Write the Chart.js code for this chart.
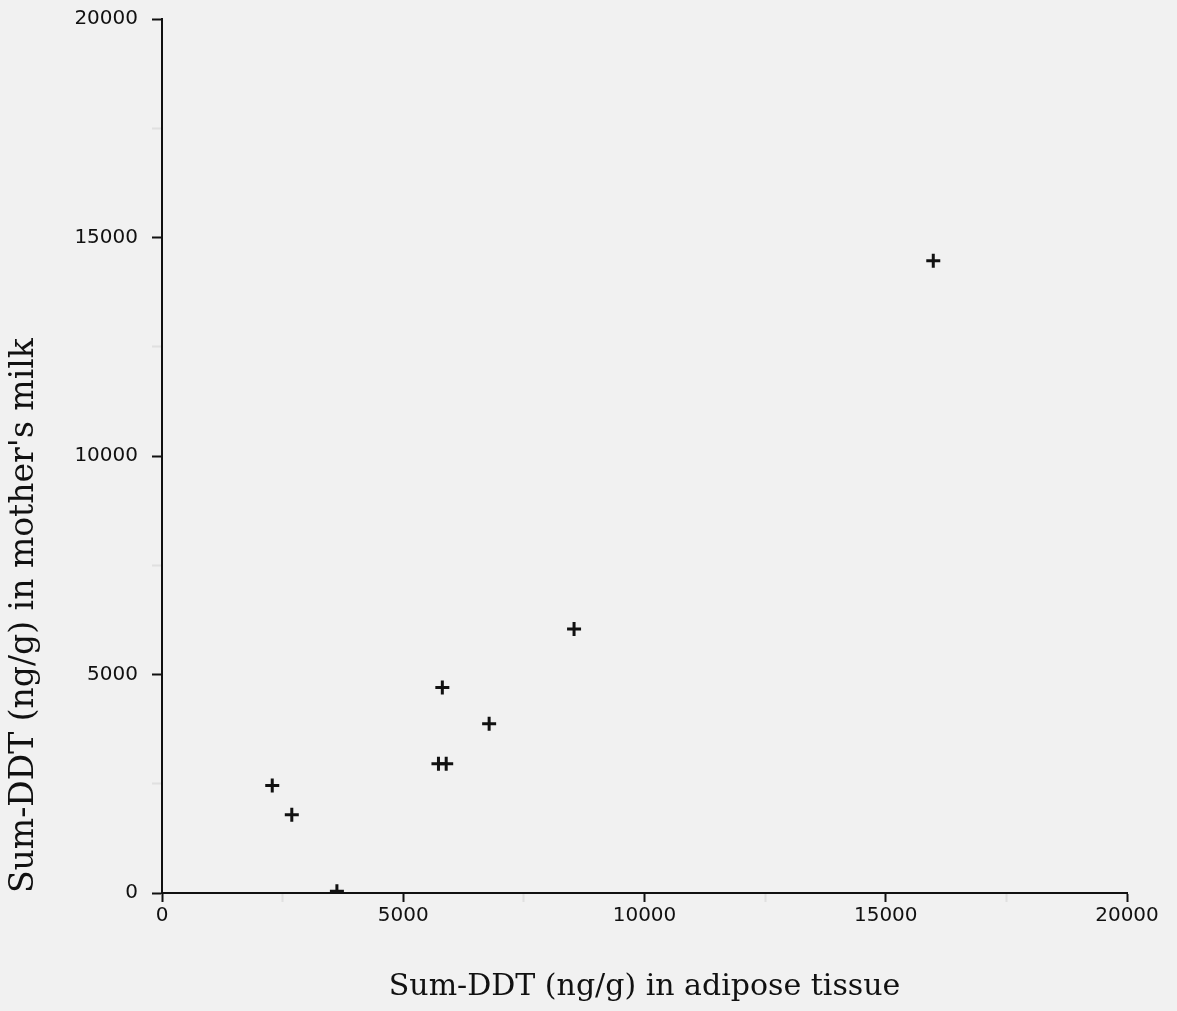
<!DOCTYPE html>
<html>
<head>
<meta charset="utf-8">
<script src="https://cdn.jsdelivr.net/npm/chart.js@4/dist/chart.umd.min.js"></script>
<style>
  html, body { margin: 0; padding: 0; background: #f1f1f1; }
  #wrap { width: 1177px; height: 1011px; }
</style>
</head>
<body>
<div id="wrap"><canvas id="c"></canvas></div>
<script>
// Sum-DDT (ng/g): adipose tissue vs mother's milk
const adipose = [2285, 2690, 3625, 5810, 5730, 5890, 6780, 8540, 15985];
const milk    = [2460, 1790,   40, 4705, 2960, 2960, 3875, 6040, 14470];

const axisMin = 0;
const axisMax = 20000;
const minorStep = 2500;

const xTitle = "Sum-DDT (ng/g) in adipose tissue";
const yTitle = "Sum-DDT (ng/g) in mother's milk";

const points = adipose.map((x, i) => ({ x: x, y: milk[i] }));

// major ticks dark, the 2500 in-between ones faint and unlabeled
const tickColor = (ctx) => (ctx.tick && ctx.tick.value % 5000 === 0) ? "#111" : "rgba(0,0,0,0.07)";
const tickLabel = (v) => (v % 5000 === 0 ? v : "");

new Chart(document.getElementById("c"), {
    type: "scatter",
    data: {
        datasets: [{
            data: points,
            pointStyle: "cross",
            pointRadius: 7,
            pointBorderWidth: 3,
            borderColor: "#111",
            backgroundColor: "#111"
        }]
    },
    options: {
        responsive: true,
        maintainAspectRatio: false,
        animation: false,
        layout: { padding: { left: 0, right: 50, top: 19, bottom: 0 } },
        plugins: { legend: { display: false }, tooltip: { enabled: false } },
        scales: {
            x: {
                type: "linear",
                min: axisMin,
                max: axisMax,
                afterFit: (s) => { s.height = 118; },
                border: { color: "#111", width: 2 },
                grid: { drawOnChartArea: false, tickLength: 9, tickColor: tickColor, tickWidth: 2 },
                ticks: {
                    stepSize: minorStep,
                    autoSkip: false,
                    maxRotation: 0,
                    padding: 2,
                    color: "#111",
                    font: { family: "DejaVu Sans", size: 20 },
                    callback: tickLabel
                },
                title: {
                    display: true,
                    text: xTitle,
                    color: "#111",
                    font: { family: "DejaVu Serif", size: 30 },
                    padding: { top: 6, bottom: 6 }
                }
            },
            y: {
                type: "linear",
                min: axisMin,
                max: axisMax,
                afterFit: (s) => { s.width = 162; s.paddingTop = 0; s.paddingBottom = 0; },
                border: { color: "#111", width: 2 },
                grid: { drawOnChartArea: false, tickLength: 10, tickColor: tickColor, tickWidth: 2 },
                ticks: {
                    stepSize: minorStep,
                    autoSkip: false,
                    padding: 14,
                    color: "#111",
                    font: { family: "DejaVu Sans", size: 20 },
                    callback: tickLabel
                },
                title: {
                    display: true,
                    text: yTitle,
                    align: "start",
                    color: "#111",
                    font: { family: "DejaVu Serif", size: 33 },
                    padding: { top: 5, bottom: 5 }
                }
            }
        }
    }
});
</script>
</body>
</html>
